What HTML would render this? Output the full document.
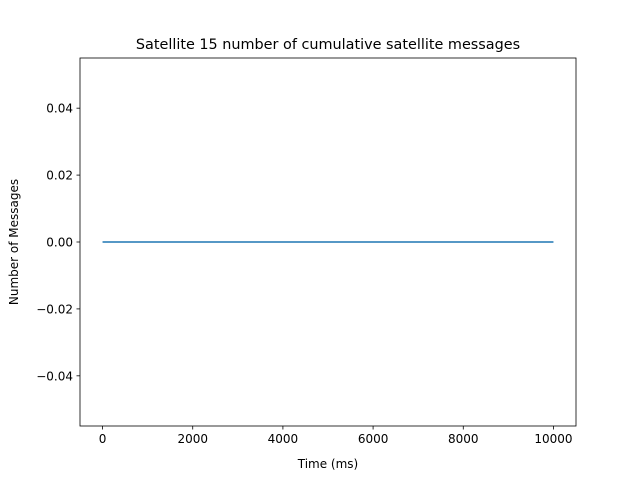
<!DOCTYPE html>
<html><head><meta charset="utf-8"><style>
body{margin:0;background:#fff;}
svg text{font-family:"DejaVu Sans","Liberation Sans",sans-serif;fill:#000;}
</style></head><body>
<svg id="chart" width="640" height="480" xmlns="http://www.w3.org/2000/svg">
<rect width="640" height="480" fill="#fff"/>
<text x="328" y="49" font-size="14.4" text-anchor="middle">Satellite 15 number of cumulative satellite messages</text>
<g id="xticks"></g>
<g id="yticks"></g>
<g id="series"></g>
<rect x="80" y="58" width="496" height="368" fill="none" stroke="#000" stroke-width="0.8"/>
<text x="328" y="468" font-size="12" text-anchor="middle">Time (ms)</text>
<text transform="translate(18,242) rotate(-90)" font-size="12" text-anchor="middle">Number of Messages</text>
</svg>
<script>
const times = [0, 1000, 2000, 3000, 4000, 5000, 6000, 7000, 8000, 9000, 10000];
const messages = [0, 0, 0, 0, 0, 0, 0, 0, 0, 0, 0];
const xTickValues = [0, 2000, 4000, 6000, 8000, 10000];
const yTickValues = [-0.04, -0.02, 0.00, 0.02, 0.04];
const yTickLabels = ["\u22120.04", "\u22120.02", "0.00", "0.02", "0.04"];

const NS = "http://www.w3.org/2000/svg";
const X0 = 80, X1 = 576, Y0 = 426, Y1 = 58;
const xMin = -500, xMax = 10500, yMin = -0.055, yMax = 0.055;
function xs(v){ return X0 + (v - xMin) / (xMax - xMin) * (X1 - X0); }
function ys(v){ return Y0 - (v - yMin) / (yMax - yMin) * (Y0 - Y1); }
function mk(tag, attrs, parent){
  const e = document.createElementNS(NS, tag);
  for (const k in attrs) e.setAttribute(k, attrs[k]);
  parent.appendChild(e); return e;
}
const gx = document.getElementById('xticks');
xTickValues.forEach(v => {
  const l = mk('line', {x1: xs(v), x2: xs(v), y1: Y0, y2: Y0 + 3.5, stroke: '#000', 'stroke-width': 0.8}, gx);
  
  
  const t = mk('text', {x: xs(v), y: Y0 + 17, 'font-size': 12, 'text-anchor': 'middle'}, gx);
  t.textContent = String(v);
  
  
});
const gy = document.getElementById('yticks');
yTickValues.forEach((v, i) => {
  const l = mk('line', {x1: X0 - 3.5, x2: X0, y1: ys(v), y2: ys(v), stroke: '#000', 'stroke-width': 0.8}, gy);
  
  
  const t = mk('text', {x: X0 - 7, y: ys(v) + 4.5, 'font-size': 12, 'text-anchor': 'end'}, gy);
  t.textContent = yTickLabels[i];
  
  
});
const gs = document.getElementById('series');
const pts = times.map((t, i) => xs(t) + ',' + ys(messages[i])).join(' ');
const pl = mk('polyline', {points: pts, fill: 'none', stroke: '#1f77b4', 'stroke-width': 1.5}, gs);


</script>
</body></html>
